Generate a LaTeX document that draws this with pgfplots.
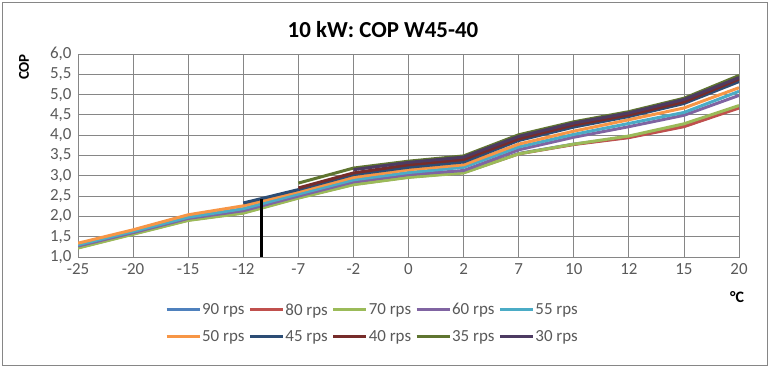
\documentclass[border=0pt]{standalone}
\usepackage{pgfplots}
\pgfplotsset{compat=1.18}
\usepackage{fontspec}
\setmainfont{Carlito}
\definecolor{s90}{HTML}{4F81BD}
\definecolor{s80}{HTML}{C0504D}
\definecolor{s70}{HTML}{9BBB59}
\definecolor{s60}{HTML}{8064A2}
\definecolor{s55}{HTML}{4BACC6}
\definecolor{s50}{HTML}{F79646}
\definecolor{s45}{HTML}{2C4D75}
\definecolor{s40}{HTML}{772C2A}
\definecolor{s35}{HTML}{5F7530}
\definecolor{s30}{HTML}{4D3B62}
\definecolor{gridc}{HTML}{868686}
\definecolor{txt}{HTML}{595959}
\begin{document}
\begin{tikzpicture}
\path[use as bounding box] (0,0) rectangle (773bp,369bp);
\draw[gridc, line width=0.8bp] (2bp,4bp) rectangle (767bp,367bp);
\node[font=\fontsize{23}{26}\selectfont\bfseries] at (383bp,339bp) {10 kW: COP W45-40};
\node[rotate=90, font=\fontsize{15}{17}\selectfont\bfseries] at (24bp,302bp) {COP};
\node[font=\fontsize{16}{18}\selectfont\bfseries] at (737bp,72bp) {°C};
\begin{axis}[
  at={(78bp,112bp)}, anchor=south west, scale only axis,
  width=661bp, height=203bp,
  xmin=0, xmax=12, ymin=1, ymax=6,
  xtick={0,...,12},
  xticklabels={-25,-20,-15,-12,-7,-2,0,2,7,10,12,15,20},
  ytick={1,1.5,...,6},
  yticklabel style={/pgf/number format/fixed, /pgf/number format/fixed zerofill, /pgf/number format/precision=1, /pgf/number format/use comma},
  /pgf/number format/assume math mode=true,
  grid=major,
  major grid style={gridc, line width=0.8bp},
  axis line style={gridc, line width=0.8bp},
  major tick length=0pt,
  tick label style={font=\fontsize{17}{20}\selectfont, text=txt},
  xticklabel style={yshift=-3bp},
  yticklabel style={xshift=-3bp},
  legend columns=5,
  legend style={draw=none, fill=none, at={(0.1315,-0.218)}, anchor=north west,
    font=\fontsize{17}{20}\selectfont, text=txt, inner sep=0pt,
    nodes={inner xsep=1bp, inner ysep=2bp},
    /tikz/every even column/.append style={column sep=3bp}, row sep=10bp},
  legend image code/.code={\draw[#1] (0bp,0bp) -- (33bp,0bp);},
  every axis plot/.append style={line width=3bp, line join=round, mark=none},
]
\addplot[s90] coordinates {(0,1.24)(1,1.58)(2,1.92)(3,2.10)(4,2.47)(5,2.80)(6,2.98)(7,3.09)(8,3.55)(9,3.78)(10,3.95)(11,4.22)(12,4.69)};
\addlegendentry{90 rps}
\addplot[s80] coordinates {(0,1.23)(1,1.57)(2,1.91)(3,2.09)(4,2.46)(5,2.79)(6,2.97)(7,3.08)(8,3.54)(9,3.77)(10,3.94)(11,4.21)(12,4.67)};
\addlegendentry{80 rps}
\addplot[s70] coordinates {(0,1.22)(1,1.56)(2,1.90)(3,2.08)(4,2.45)(5,2.78)(6,2.96)(7,3.07)(8,3.54)(9,3.78)(10,3.98)(11,4.28)(12,4.73)};
\addlegendentry{70 rps}
\addplot[s60] coordinates {(0,1.27)(1,1.60)(2,1.95)(3,2.14)(4,2.50)(5,2.85)(6,3.03)(7,3.13)(8,3.64)(9,3.95)(10,4.21)(11,4.49)(12,4.98)};
\addlegendentry{60 rps}
\addplot[s55] coordinates {(0,1.30)(1,1.63)(2,1.98)(3,2.19)(4,2.55)(5,2.90)(6,3.08)(7,3.21)(8,3.71)(9,4.02)(10,4.29)(11,4.56)(12,5.08)};
\addlegendentry{55 rps}
\addplot[s50] coordinates {(0,1.34)(1,1.67)(2,2.04)(3,2.26)(4,2.61)(5,2.96)(6,3.15)(7,3.27)(8,3.78)(9,4.10)(10,4.38)(11,4.67)(12,5.17)};
\addlegendentry{50 rps}
\addplot[s45] coordinates {(3,2.33)(4,2.66)(5,3.03)(6,3.21)(7,3.34)(8,3.87)(9,4.20)(10,4.46)(11,4.78)(12,5.32)};
\addlegendentry{45 rps}
\addplot[s40] coordinates {(4,2.70)(5,3.07)(6,3.27)(7,3.40)(8,3.91)(9,4.25)(10,4.50)(11,4.82)(12,5.38)};
\addlegendentry{40 rps}
\addplot[s35] coordinates {(4,2.82)(5,3.19)(6,3.36)(7,3.49)(8,4.01)(9,4.33)(10,4.58)(11,4.91)(12,5.47)};
\addlegendentry{35 rps}
\addplot[s30] coordinates {(5,3.15)(6,3.33)(7,3.46)(8,3.97)(9,4.30)(10,4.55)(11,4.88)(12,5.42)};
\addlegendentry{30 rps}
\addplot[black, line width=3bp, line cap=butt, forget plot] coordinates {(3.33,1.0)(3.33,2.44)};
\end{axis}
\end{tikzpicture}
\end{document}
